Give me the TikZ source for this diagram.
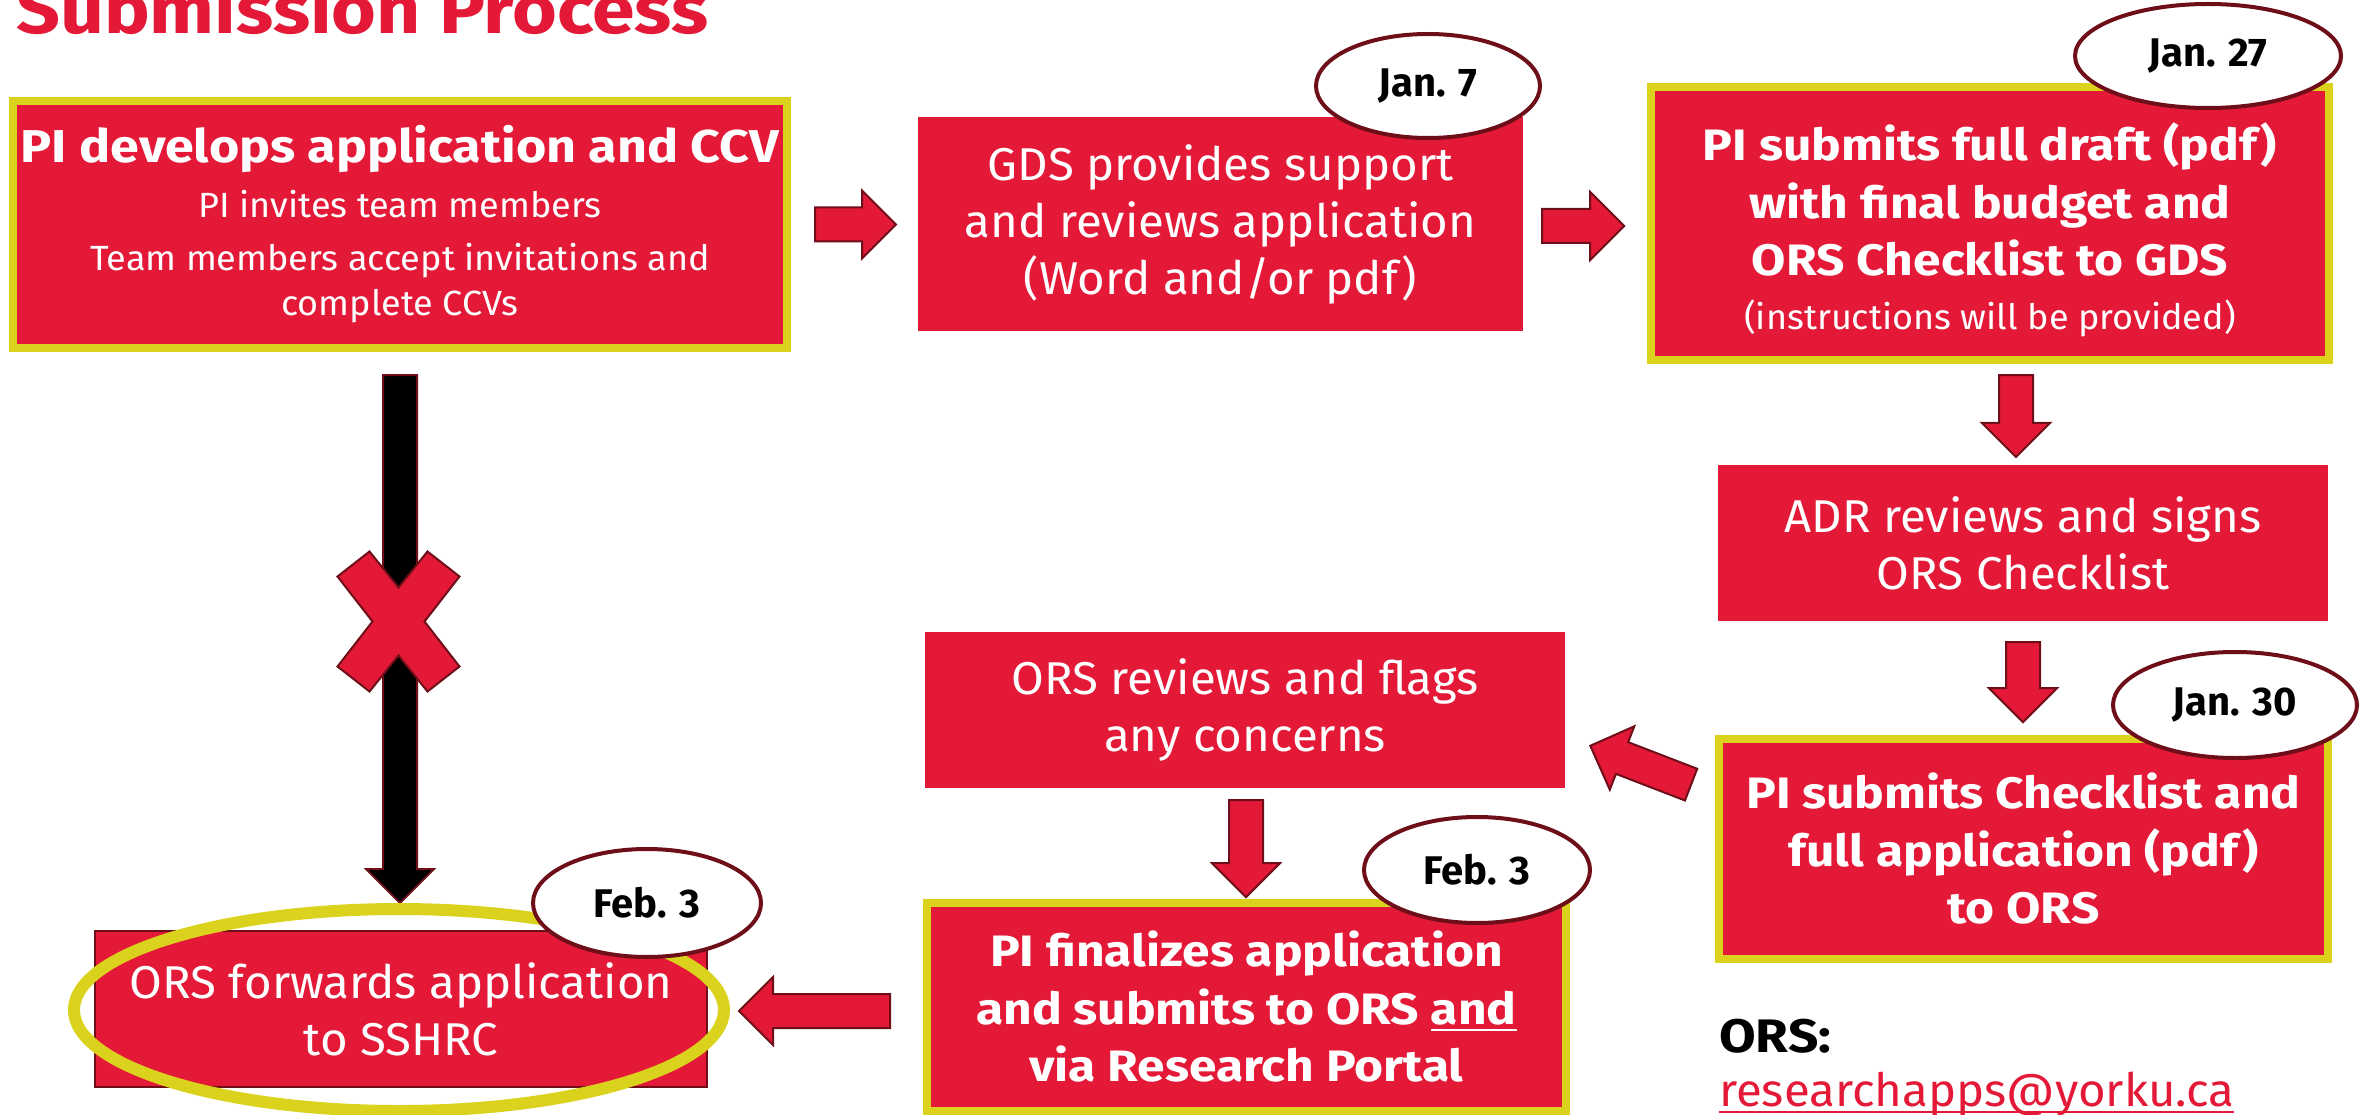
\documentclass[tikz,border=0pt]{standalone}
\usepackage{fontspec}
\setmainfont{Fira Sans}[FakeStretch=1.03, BoldFeatures={FakeStretch=1.13}]
\newfontfamily\datefont{Fira Sans}
\usetikzlibrary{shapes.geometric,shapes.arrows,calc}

\definecolor{ysred}{RGB}{227,25,55}
\definecolor{ysyellow}{RGB}{218,210,28}
\definecolor{ysmaroon}{RGB}{110,14,24}

% underline that runs through the descenders
\newcommand\ulword[1]{\leavevmode\setbox0\hbox{#1}\rlap{\rule[-7pt]{\wd0}{2.5pt}}\box0}

\begin{document}
\begin{tikzpicture}[
  x=1pt, y=-1pt,
  stepbox/.style={
    fill=ysred,
    text=white,
    align=center,
    inner sep=0pt,
    font=\fontsize{46}{57}\selectfont
  },
  keybox/.style={
    stepbox,
    draw=ysyellow,
    line width=8pt,
    font=\bfseries\fontsize{44}{57.5}\selectfont
  },
  datebubble/.style={
    ellipse,
    draw=ysmaroon,
    fill=white,
    line width=4pt,
    inner sep=0pt,
    font=\datefont\bfseries\fontsize{40}{48}\selectfont
  },
  blockarrow/.style={
    single arrow,
    draw=ysmaroon,
    fill=ysred,
    line width=2pt,
    inner xsep=0pt,
    inner ysep=16pt,
    single arrow head extend=17pt,
    single arrow tip angle=90,
    anchor=tail,
    minimum height=#1
  }
]

\clip (0,0) rectangle (2367,1115);

% Title
\node[anchor=base west, inner sep=0pt, text=ysred,
  font=\bfseries\fontsize{68}{74}\selectfont] (title) at (16,34)
  {Submission Process};

% Steps
\node[keybox, minimum width=774pt, minimum height=247pt,
  font=\fontsize{35}{45}\selectfont] (develop) at (400,224.5)
  {\bfseries\fontsize{46}{55}\selectfont PI develops application and CCV\\[10pt]
   \fontsize{35}{45}\selectfont PI invites team members\\[8pt]
   \fontsize{35}{45}\selectfont Team members accept invitations and\\
   \fontsize{35}{45}\selectfont complete CCVs};

\node[stepbox, minimum width=605pt, minimum height=214pt] (gds) at (1220.5,224)
  {GDS provides support\\ and reviews application\\ (Word and/or pdf)};

\node[keybox, minimum width=678pt, minimum height=273pt] (draft) at (1990,223.5)
  {\rule{0pt}{50pt}PI submits full draft (pdf)\\ with final budget and\\ ORS Checklist to GDS\\[-4pt]
   \mdseries\fontsize{35}{40}\selectfont (instructions will be provided)};

\node[stepbox, minimum width=610pt, minimum height=156pt] (adr) at (2023,543)
  {ADR reviews and signs\\ ORS Checklist};

\node[keybox, minimum width=609pt, minimum height=220pt] (checklist) at (2023.5,849)
  {PI submits Checklist and\\ full application (pdf)\\ to ORS};

\node[stepbox, minimum width=640pt, minimum height=156pt] (flags) at (1245,710)
  {ORS reviews and flags\\ any concerns};

\node[keybox, minimum width=639pt, minimum height=208pt] (finalize) at (1246.5,1007)
  {PI finalizes application\\ and submits to ORS \ulword{and}\\ via Research Portal};

\node[stepbox, draw=ysmaroon, line width=2pt, minimum width=612pt, minimum height=156pt]
  (sshrc) at (401,1009)
  {ORS forwards application\\ to SSHRC};

% Arrows
\node[blockarrow=81pt] (a1) at ($(develop.east)+(23,0)$) {};
\node[blockarrow=82pt] (a2) at ($(gds.east)+(18,2)$) {};
\node[blockarrow=82pt, rotate=-90] (a3) at ($(draft.south)+(26,10)$) {};
\node[blockarrow=80pt, rotate=-90] (a4) at ($(adr.south)+(0,20)$) {};
\node[blockarrow=108pt, rotate=158.9] (a5) at ($(checklist.west)+(-23,-64)$) {};
\node[blockarrow=97pt, rotate=-90] (a6) at ($(flags.south)+(1,11)$) {};
\node[blockarrow=151pt, rotate=180] (a7) at ($(finalize.west)+(-32,4)$) {};

% Direct path that is not allowed
\node[blockarrow=528pt, fill=black, rotate=-90] (direct) at ($(develop.south)+(0,22)$) {};
\draw[draw=ysmaroon, fill=ysred, line width=2pt, line join=miter, shift={(398.5,621.5)}]
  (-61,-45) -- (-29,-70) -- (0,-34) -- (29,-70) -- (61,-45) -- (26,0)
  -- (61,45) -- (29,70) -- (0,34) -- (-29,70) -- (-61,45) -- (-26,0) -- cycle;

% Highlight of the last step
\draw[ysyellow, line width=12pt] (sshrc.center) ++(-2,1) ellipse [x radius=325, y radius=101];

% Dates
\node[datebubble, minimum width=224pt, minimum height=104pt] (jan7) at (1428,86) {Jan. 7};
\node[datebubble, minimum width=266pt, minimum height=104pt] (jan27) at (2208,56) {Jan. 27};
\node[datebubble, minimum width=244pt, minimum height=106pt] (jan30) at (2235,705) {Jan. 30};
\node[datebubble, minimum width=226pt, minimum height=106pt] (feb3a) at (1477,870) {Feb. 3};
\node[datebubble, minimum width=228pt, minimum height=108pt] (feb3b) at (647,903) {Feb. 3};

% Contact
\node[anchor=base west, inner sep=0pt, font=\bfseries\fontsize{47}{52}\selectfont]
  (ors) at (1719,1052) {ORS:};
\node[anchor=base west, inner sep=0pt, text=ysred, font=\fontsize{46}{52}\selectfont]
  (email) at (1719,1106) {\ulword{researchapps@yorku.ca}};

\end{tikzpicture}
\end{document}
